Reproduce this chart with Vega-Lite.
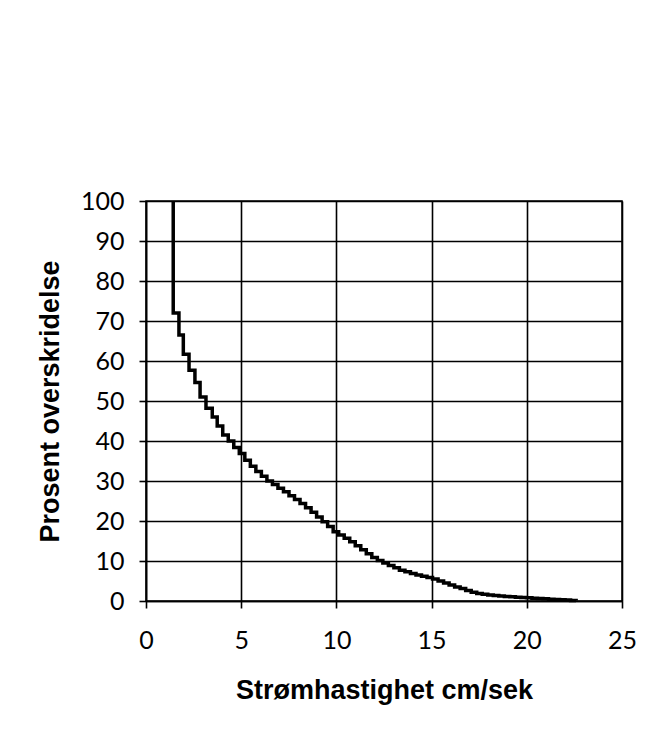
{
  "$schema": "https://vega.github.io/schema/vega-lite/v6.json",
  "autosize": {"type": "none"},
  "width": 476,
  "height": 400,
  "padding": {"left": 146, "top": 201, "right": 44, "bottom": 131},
  "background": "white",
  "config": {
    "view": {"stroke": "black", "strokeWidth": 1.5},
    "axis": {
      "grid": true,
      "gridColor": "black",
      "gridOpacity": 1,
      "gridWidth": 1.6,
      "domainColor": "black",
      "domainWidth": 1.6,
      "tickColor": "black",
      "tickWidth": 1.6,
      "tickSize": 7,
      "labelFlush": false,
      "labelOverlap": false,
      "labelFont": "Lato",
      "labelFontSize": 25,
      "labelColor": "black",
      "titleFont": "Liberation Sans",
      "titleFontWeight": "bold",
      "titleFontSize": 27,
      "titleColor": "black"
    }
  },
  "data": {
    "values": [
      {"v": 1.43, "p": 100},
      {"v": 1.43, "p": 72},
      {"v": 1.73, "p": 66.5},
      {"v": 1.96, "p": 61.7},
      {"v": 2.26, "p": 57.7},
      {"v": 2.57, "p": 54.6},
      {"v": 2.84, "p": 51},
      {"v": 3.15, "p": 48.2},
      {"v": 3.48, "p": 46},
      {"v": 3.74, "p": 43.75},
      {"v": 4.03, "p": 41.5},
      {"v": 4.32, "p": 40.0},
      {"v": 4.61, "p": 38.4},
      {"v": 4.90, "p": 36.9},
      {"v": 5.19, "p": 35.2},
      {"v": 5.48, "p": 33.7},
      {"v": 5.77, "p": 32.4},
      {"v": 6.06, "p": 31.2},
      {"v": 6.35, "p": 30.0},
      {"v": 6.64, "p": 29.1},
      {"v": 6.93, "p": 28.2},
      {"v": 7.22, "p": 27.3},
      {"v": 7.51, "p": 26.3},
      {"v": 7.80, "p": 25.4},
      {"v": 8.09, "p": 24.4},
      {"v": 8.38, "p": 23.3},
      {"v": 8.67, "p": 22.2},
      {"v": 8.96, "p": 21.0},
      {"v": 9.25, "p": 19.8},
      {"v": 9.54, "p": 18.6},
      {"v": 9.83, "p": 17.3},
      {"v": 10.12, "p": 16.5},
      {"v": 10.41, "p": 15.7},
      {"v": 10.70, "p": 14.8},
      {"v": 10.99, "p": 13.8},
      {"v": 11.28, "p": 12.8},
      {"v": 11.57, "p": 11.8},
      {"v": 11.86, "p": 10.9},
      {"v": 12.15, "p": 10.1},
      {"v": 12.44, "p": 9.5},
      {"v": 12.73, "p": 8.9},
      {"v": 13.02, "p": 8.3},
      {"v": 13.31, "p": 7.7},
      {"v": 13.60, "p": 7.3},
      {"v": 13.89, "p": 6.9},
      {"v": 14.18, "p": 6.5},
      {"v": 14.47, "p": 6.2},
      {"v": 14.76, "p": 5.9},
      {"v": 15.05, "p": 5.5},
      {"v": 15.34, "p": 5.0},
      {"v": 15.63, "p": 4.5},
      {"v": 15.92, "p": 4.0},
      {"v": 16.21, "p": 3.5},
      {"v": 16.50, "p": 3.1},
      {"v": 16.79, "p": 2.6},
      {"v": 17.08, "p": 2.2},
      {"v": 17.37, "p": 1.9},
      {"v": 17.66, "p": 1.7},
      {"v": 17.95, "p": 1.5},
      {"v": 18.24, "p": 1.35},
      {"v": 18.53, "p": 1.25},
      {"v": 18.82, "p": 1.15},
      {"v": 19.11, "p": 1.05},
      {"v": 19.40, "p": 0.95},
      {"v": 19.69, "p": 0.85},
      {"v": 19.98, "p": 0.8},
      {"v": 20.27, "p": 0.7},
      {"v": 20.56, "p": 0.6},
      {"v": 20.85, "p": 0.55},
      {"v": 21.14, "p": 0.45},
      {"v": 21.43, "p": 0.38},
      {"v": 21.72, "p": 0.3},
      {"v": 22.01, "p": 0.22},
      {"v": 22.30, "p": 0.15},
      {"v": 22.59, "p": 0.1}
    ]
  },
  "mark": {"type": "line", "interpolate": "step-after", "color": "black", "strokeWidth": 3.5},
  "encoding": {
    "x": {
      "field": "v",
      "type": "quantitative",
      "scale": {"domain": [0, 25], "nice": false},
      "axis": {"values": [0, 5, 10, 15, 20, 25], "title": "Strømhastighet cm/sek", "labelPadding": 20, "titlePadding": 24}
    },
    "y": {
      "field": "p",
      "type": "quantitative",
      "scale": {"domain": [0, 100], "nice": false},
      "axis": {"values": [0, 10, 20, 30, 40, 50, 60, 70, 80, 90, 100], "title": "Prosent overskridelse", "labelPadding": 15, "titlePadding": 16}
    },
    "order": {"field": "v", "type": "quantitative"}
  }
}
